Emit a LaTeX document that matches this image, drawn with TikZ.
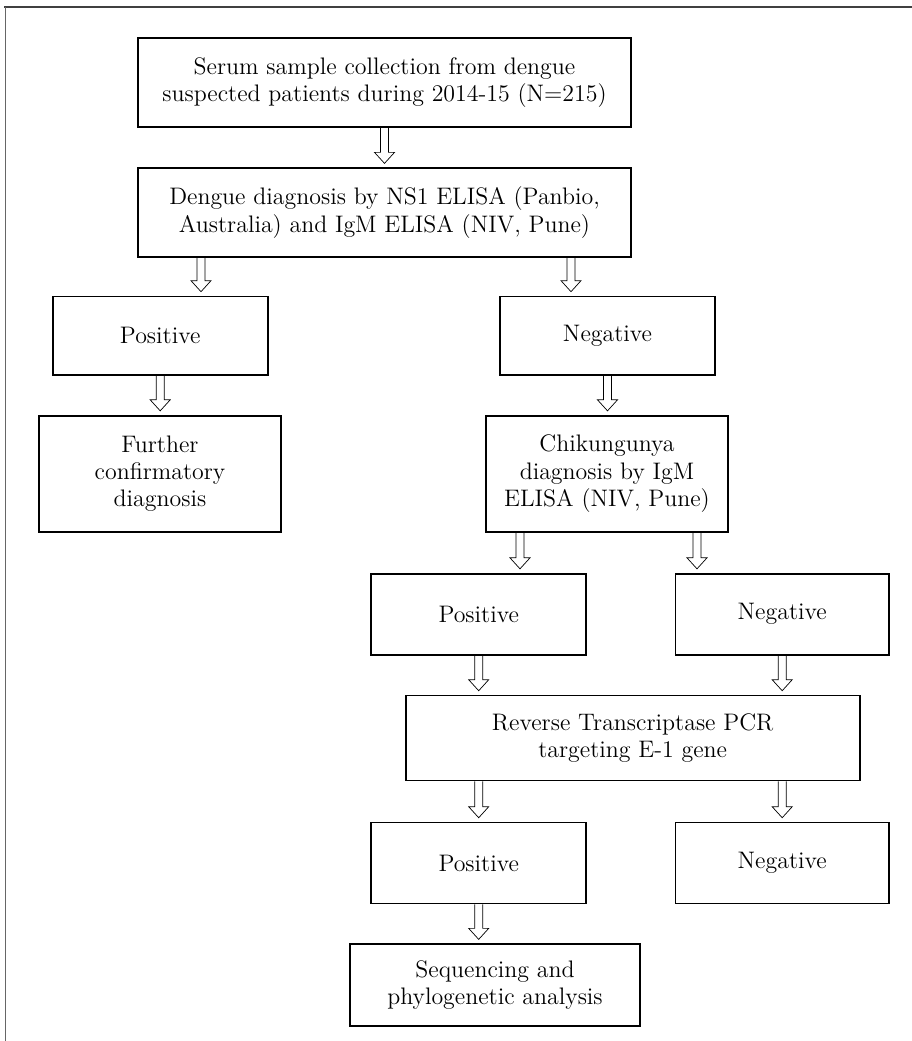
\documentclass[tikz,border=0pt]{standalone}
\usetikzlibrary{calc}

\begin{document}
\begin{tikzpicture}[x=0.02cm, y=-0.02cm,
    box/.style={draw, line width=1pt, inner sep=0pt, align=center, font=\fontsize{13.6}{15.6}\selectfont},
    hollow/.style={line width=0.6pt, to path={let \p1=(\tikztostart), \p2=(\tikztotarget) in
        (\x1-0.08cm,\y1) -- (\x1-0.08cm,\y2+0.3cm) -- (\x1-0.2cm,\y2+0.3cm) -- (\x1,\y2+0.08cm)
        -- (\x1+0.2cm,\y2+0.3cm) -- (\x1+0.08cm,\y2+0.3cm) -- (\x1+0.08cm,\y1)}}]
        \useasboundingbox (0,0) rectangle (912,1041);
        \draw[black!75, line width=1.1pt] (4,7) -- (912,7);
        \draw[black!60, line width=0.5pt] (5,7) -- (5,1041);

        \node[box, minimum width=9.86cm, minimum height=1.77cm] (serum) at (384.5,82.5) {Serum sample collection from dengue\\suspected patients during 2014-15 (N=215)};
        \node[box, minimum width=9.86cm, minimum height=1.77cm] (dengue) at (384.5,212.5) {Dengue diagnosis by NS1 ELISA (Panbio,\\Australia) and IgM ELISA (NIV, Pune)};

        \node[box, minimum width=4.3cm, minimum height=1.57cm] (pos1) at (160.2,335.8) {Positive};
        \node[box, minimum width=4.84cm, minimum height=2.32cm] (further) at (160,473.7) {Further\\confirmatory\\diagnosis};
        \node[box, minimum width=4.3cm, minimum height=1.57cm] (neg1) at (607.5,335.8) {Negative};
        \node[box, minimum width=4.85cm, minimum height=2.32cm] (chik) at (607,473.7) {Chikungunya\\diagnosis by IgM\\ELISA (NIV, Pune)};

        \node[box, minimum width=4.3cm, minimum height=1.62cm] (pos2) at (478.7,614.2) {Positive};
        \node[box, minimum width=4.27cm, minimum height=1.62cm] (neg2) at (782.2,614.2) {Negative};
        \node[box, minimum width=9.08cm, minimum height=1.7cm] (rtpcr) at (632.7,738.1) {Reverse Transcriptase PCR\\targeting E-1 gene};

        \node[box, minimum width=4.3cm, minimum height=1.62cm] (pos3) at (478.7,863.1) {Positive};
        \node[box, minimum width=4.27cm, minimum height=1.62cm] (neg3) at (782.2,863.1) {Negative};
        \node[box, minimum width=5.8cm, minimum height=1.63cm] (seq) at (495,985) {Sequencing and\\phylogenetic analysis};

        \draw (serum.south) to[hollow] (dengue.north);
        \draw ($(pos1.north |- dengue.south)+(40.8,0)$) to[hollow] (pos1.north);
        \draw ($(neg1.north |- dengue.south)+(-36.5,0)$) to[hollow] (neg1.north);
        \draw (pos1.south) to[hollow] (further.north);
        \draw (neg1.south) to[hollow] (chik.north);
        \draw ($(pos2.north |- chik.south)+(41.3,0)$) to[hollow] (pos2.north);
        \draw ($(neg2.north |- chik.south)+(-85.2,0)$) to[hollow] (neg2.north);
        \draw (pos2.south) to[hollow] (pos2.south |- rtpcr.north);
        \draw (neg2.south) to[hollow] (neg2.south |- rtpcr.north);
        \draw (pos3.north |- rtpcr.south) to[hollow] (pos3.north);
        \draw (neg3.north |- rtpcr.south) to[hollow] (neg3.north);
        \draw (pos3.south) to[hollow] (pos3.south |- seq.north);
    \end{tikzpicture}
\end{document}
